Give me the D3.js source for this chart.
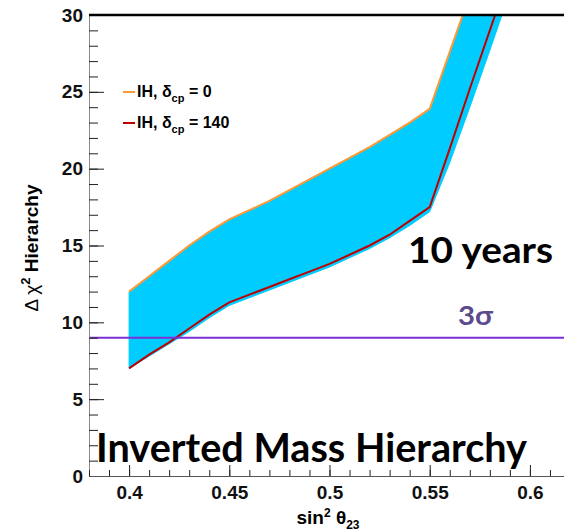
<!DOCTYPE html>
<meta charset="utf-8">
<head>
<script src="https://d3js.org/d3.v7.min.js"></script>
<style>
  body { margin: 0; background: #fff; }
  .tick text { font-family: "Liberation Sans", Arial, sans-serif; font-weight: bold; font-size: 19px; fill: #111; }
  .tick line { stroke: #222; }
</style>
</head>
<body>
<svg width="564" height="532"></svg>
<script>
// sin^2 theta23 sample points
var sin2 = [0.40, 0.41, 0.42, 0.43, 0.44, 0.45, 0.46, 0.47, 0.48, 0.49, 0.50,
            0.51, 0.52, 0.53, 0.54, 0.55, 0.56, 0.57, 0.58, 0.59];
// IH, delta_cp = 0 (orange, upper edge of band)
var ihCp0 = [12.0, 13.0, 14.0, 15.0, 15.9, 16.7, 17.3, 17.9, 18.6, 19.3, 20.0,
             20.7, 21.4, 22.2, 23.0, 23.9, 27.6, 31.3, 35.0, 38.7];
// IH, delta_cp = 140 (red)
var ihCp140 = [7.0, 7.9, 8.7, 9.6, 10.5, 11.3, 11.8, 12.3, 12.8, 13.3, 13.8,
               14.4, 15.0, 15.7, 16.6, 17.5, 21.3, 25.2, 29.0, 32.8];
// lower edge of the cyan band
var bandLow = [7.0, 7.8, 8.6, 9.4, 10.3, 11.1, 11.6, 12.1, 12.6, 13.1, 13.6,
               14.2, 14.8, 15.5, 16.3, 17.2, 20.4, 24.0, 27.7, 31.5];

var xMajor = [0.4, 0.45, 0.5, 0.55, 0.6];
var yMajor = [0, 5, 10, 15, 20, 25, 30];
var sigma3 = 9;

var svg = d3.select("svg");
var x = d3.scaleLinear().domain([0.38, 0.62]).range([89, 570]);
var y = d3.scaleLinear().domain([0, 30]).range([476, 15]);

var rows = sin2.map(function(s, i) {
    return {x: s, hi: ihCp0[i], mid: ihCp140[i], lo: bandLow[i]};
});

svg.append("defs").append("clipPath").attr("id", "plot")
    .append("rect").attr("x", 89).attr("y", 15).attr("width", 481).attr("height", 461);

var plot = svg.append("g").attr("clip-path", "url(#plot)");

var band = d3.area()
    .x(function(d) { return x(d.x); })
    .y0(function(d) { return y(d.lo); })
    .y1(function(d) { return y(d.hi); });

plot.append("path").datum(rows)
    .attr("d", band)
    .attr("fill", "#00ccff")
    .attr("stroke", "#00ccff")
    .attr("stroke-width", 1);

var lineHi = d3.line().x(function(d) { return x(d.x); }).y(function(d) { return y(d.hi); });
var lineMid = d3.line().x(function(d) { return x(d.x); }).y(function(d) { return y(d.mid); });

plot.append("path").datum(rows).attr("d", lineHi)
    .attr("fill", "none").attr("stroke", "#ff9933").attr("stroke-width", 2);
plot.append("path").datum(rows).attr("d", lineMid)
    .attr("fill", "none").attr("stroke", "#c00000").attr("stroke-width", 2);

// 3 sigma line
svg.append("line")
    .attr("x1", x(0.38)).attr("x2", 564)
    .attr("y1", y(sigma3)).attr("y2", y(sigma3))
    .attr("stroke", "#7b2fd6").attr("stroke-width", 2);

// axes
var yAxis = svg.append("g").attr("transform", "translate(" + x(0.38) + ",0)")
    .call(d3.axisLeft(y).tickValues(yMajor).tickSizeInner(-15).tickSizeOuter(0)
        .tickPadding(6).tickFormat(function(d) { return String(d); }));
yAxis.select(".domain").remove();
var yMinor = svg.append("g").attr("transform", "translate(" + x(0.38) + ",0)")
    .call(d3.axisLeft(y).tickValues(d3.range(0, 31, 1)).tickSize(-9).tickFormat(""));
yMinor.select(".domain").attr("stroke", "#888");

var xAxis = svg.append("g").attr("transform", "translate(0," + y(0) + ")")
    .call(d3.axisBottom(x).tickValues(xMajor).tickSizeInner(-11).tickSizeOuter(0)
        .tickPadding(8).tickFormat(function(d) { return String(d); }));
xAxis.select(".domain").remove();
xAxis.selectAll("text").attr("dy", "0.8em");
var xMinor = svg.append("g").attr("transform", "translate(0," + y(0) + ")")
    .call(d3.axisBottom(x).tickValues(d3.range(38, 63, 1).map(function(v) { return v / 100; }))
        .tickSize(-6).tickFormat(""));
xMinor.select(".domain").attr("stroke", "#555");

// top frame line
svg.append("line")
    .attr("x1", x(0.38)).attr("x2", 564)
    .attr("y1", y(30)).attr("y2", y(30))
    .attr("stroke", "#000").attr("stroke-width", 2.5);

// axis titles
var xt = svg.append("text")
    .attr("x", 328).attr("y", 524)
    .attr("text-anchor", "middle")
    .style("font-family", "Liberation Sans, Arial, sans-serif")
    .style("font-weight", "bold").style("font-size", "19px");
xt.append("tspan").text("sin");
xt.append("tspan").attr("dy", -7).style("font-size", "12px").text("2");
xt.append("tspan").attr("dy", 7).text(" \u03b8");
xt.append("tspan").attr("dy", 5).style("font-size", "12px").text("23");

var yt = svg.append("text")
    .attr("transform", "translate(38,248) rotate(-90)")
    .attr("text-anchor", "middle")
    .style("font-family", "Liberation Sans, Arial, sans-serif")
    .style("font-size", "19px");
yt.append("tspan").text("\u0394 \u03c7");
yt.append("tspan").attr("dy", -8).style("font-size", "13px").style("font-weight", "bold").text("2");
yt.append("tspan").attr("dy", 8).style("font-weight", "bold").text(" Hierarchy");

// legend
var legend = [
    {label: "0", color: "#ff9933"},
    {label: "140", color: "#c00000"}
];
legend.forEach(function(l, i) {
    var ly = 92 + i * 31;
    svg.append("line").attr("x1", 123).attr("x2", 135).attr("y1", ly).attr("y2", ly)
        .attr("stroke", l.color).attr("stroke-width", 2);
    var t = svg.append("text").attr("x", 137).attr("y", ly + 5)
        .style("font-family", "Liberation Sans, Arial, sans-serif")
        .style("font-weight", "bold").style("font-size", "16px");
    t.append("tspan").text("IH, \u03b4");
    t.append("tspan").attr("dy", 5).style("font-size", "11px").text("cp");
    t.append("tspan").attr("dy", -5).text(" = " + l.label);
});

// annotations (Calibri-like: tall glyphs squeezed to the measured width)
svg.append("text").attr("x", 408).attr("y", 263)
    .style("font-family", "Lato, sans-serif").style("font-weight", "bold")
    .style("font-size", "36px").attr("fill", "#000")
    .attr("textLength", 145).attr("lengthAdjust", "spacingAndGlyphs")
    .text("10 years");

svg.append("text").attr("x", 458).attr("y", 325)
    .style("font-family", "Lato, sans-serif").style("font-weight", "bold")
    .style("font-size", "27px").attr("fill", "#5b4a8e")
    .attr("textLength", 35).attr("lengthAdjust", "spacingAndGlyphs")
    .text("3\u03c3");

svg.append("text").attr("x", 96).attr("y", 462)
    .style("font-family", "Lato, sans-serif").style("font-weight", "bold")
    .style("font-size", "40px").attr("fill", "#000")
    .attr("textLength", 431).attr("lengthAdjust", "spacingAndGlyphs")
    .text("Inverted Mass Hierarchy");
</script>
</body>
